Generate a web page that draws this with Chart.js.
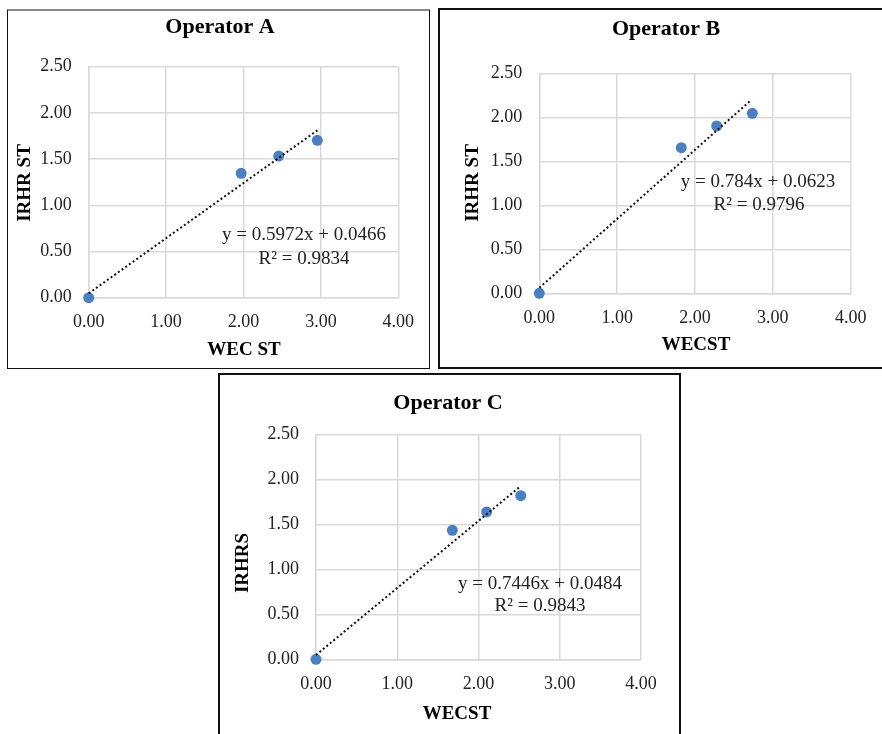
<!DOCTYPE html>
<html>
<head>
<meta charset="utf-8">
<script src="https://cdn.jsdelivr.net/npm/chart.js@4.4.0/dist/chart.umd.min.js"></script>
<style>
  html, body { margin: 0; padding: 0; background: #fff; }
  body { width: 882px; height: 734px; position: relative; overflow: hidden; }
  .box { position: absolute; background: #fff; box-sizing: content-box; }
  .box canvas { display: block; }
</style>
</head>
<body>
<div class="box" id="boxA" style="left:7px;top:9px;width:421px;height:357px;border-left:1px solid #111;border-right:1px solid #111;border-bottom:1px solid #111;border-top:2px solid #8a8a8a;"><canvas id="cA"></canvas></div>
<div class="box" id="boxB" style="left:438px;top:8px;width:444px;height:357px;border-left:2px solid #111;border-top:2px solid #111;border-bottom:2px solid #111;"><canvas id="cB"></canvas></div>
<div class="box" id="boxC" style="left:218px;top:373px;width:459px;height:361px;border-left:2px solid #111;border-top:2px solid #111;border-right:2px solid #111;"><canvas id="cC"></canvas></div>
<script>
// ---------- data ----------
const titles = ["Operator A", "Operator B", "Operator C"];
const xAxisTitles = ["WEC ST", "WECST", "WECST"];
const yAxisTitles = ["IRHR ST", "IRHR ST", "IRHRS"];
const xTickLabels = ["0.00", "1.00", "2.00", "3.00", "4.00"];
const yTickLabels = ["0.00", "0.50", "1.00", "1.50", "2.00", "2.50"];

const opA_x = [0.00, 1.97, 2.455, 2.954];
const opA_y = [0.00, 1.346, 1.533, 1.703];
const opB_x = [0.00, 1.824, 2.279, 2.736];
const opB_y = [0.00, 1.655, 1.901, 2.045];
const opC_x = [0.00, 1.678, 2.10, 2.52];
const opC_y = [0.00, 1.433, 1.637, 1.818];

// trendline end points (start / end)
const trendA_x = [0.00, 2.954];
const trendA_y = [0.047, 1.811];
const trendB_x = [0.00, 2.72];
const trendB_y = [0.062, 2.195];
const trendC_x = [0.00, 2.52];
const trendC_y = [0.048, 1.925];

const equations = ["y = 0.5972x + 0.0466", "y = 0.784x + 0.0623", "y = 0.7446x + 0.0484"];
const rSquared = ["R\u00B2 = 0.9834", "R\u00B2 = 0.9796", "R\u00B2 = 0.9843"];

// ---------- layout (canvas-relative pixels) ----------
const layouts = [
  { id: "cA", w: 421, h: 357, plot: { l: 80.7, r: 390.3, t: 55.7, b: 286.7 },
    title: [212, 16], xt: [236, 339], yt: [17, 172], eq: [296, 224], r2: [296, 248] },
  { id: "cB", w: 444, h: 357, plot: { l: 99.3, r: 410.7, t: 63.3, b: 283.3 },
    title: [226, 19], xt: [256, 335], yt: [33, 173], eq: [318, 172], r2: [319, 195] },
  { id: "cC", w: 459, h: 361, plot: { l: 96, r: 421, t: 59.3, b: 284.3 },
    title: [228, 28], xt: [237, 339], yt: [23, 188], eq: [320, 209], r2: [320, 231] }
];

const serif = "'Liberation Serif', 'Times New Roman', serif";
const pointColor = "#4a7fc1";
const gridColor = "#d9d9d9";

function pairs(xs, ys) { return xs.map((x, i) => ({ x: x, y: ys[i] })); }

const sets = [
  { pts: pairs(opA_x, opA_y), tr: pairs(trendA_x, trendA_y) },
  { pts: pairs(opB_x, opB_y), tr: pairs(trendB_x, trendB_y) },
  { pts: pairs(opC_x, opC_y), tr: pairs(trendC_x, trendC_y) }
];

const textPlugin = {
  id: "textPlugin",
  afterDraw(chart, args, opts) {
    const ctx = chart.ctx;
    const L = opts.L, i = opts.i;
    ctx.save();
    ctx.fillStyle = "#000";
    ctx.textAlign = "center";
    ctx.textBaseline = "middle";
    ctx.font = "bold 22px " + serif;
    ctx.fillText(titles[i], L.title[0], L.title[1]);
    ctx.font = "bold 19px " + serif;
    ctx.fillText(xAxisTitles[i], L.xt[0], L.xt[1]);
    ctx.save();
    ctx.translate(L.yt[0], L.yt[1]);
    ctx.rotate(-Math.PI / 2);
    ctx.fillText(yAxisTitles[i], 0, 0);
    ctx.restore();
    ctx.fillStyle = "#222";
    ctx.font = "19px " + serif;
    ctx.fillText(equations[i], L.eq[0], L.eq[1]);
    ctx.fillText(rSquared[i], L.r2[0], L.r2[1]);
    ctx.restore();
  }
};

layouts.forEach((L, i) => {
  const cv = document.getElementById(L.id);
  cv.width = L.w; cv.height = L.h;
  cv.style.width = L.w + "px"; cv.style.height = L.h + "px";
  new Chart(cv, {
    type: "scatter",
    data: {
      datasets: [
        { label: "trend", type: "line", data: sets[i].tr, order: 0, clip: false,
          borderColor: "#111", borderWidth: 2, borderDash: [2, 2.5],
          pointRadius: 0, fill: false, tension: 0 },
        { label: titles[i], data: sets[i].pts, order: 1, clip: false,
          backgroundColor: pointColor, borderColor: pointColor,
          pointRadius: 5.5, pointHoverRadius: 5.5, borderWidth: 0 }
      ]
    },
    options: {
      responsive: false,
      animation: false,
      devicePixelRatio: 1,
      layout: { padding: { top: L.plot.t, right: L.w - L.plot.r, left: 0, bottom: 0 } },
      plugins: {
        legend: { display: false },
        tooltip: { enabled: false },
        title: { display: false },
        textPlugin: { L: L, i: i }
      },
      scales: {
        x: {
          type: "linear", min: 0, max: 4,
          afterFit(s) { s.height = L.h - L.plot.b; },
          afterBuildTicks(s) { s.ticks = xTickLabels.map(v => ({ value: parseFloat(v) })); },
          grid: { color: gridColor, lineWidth: 1.5, drawTicks: false },
          border: { color: gridColor, width: 1.5 },
          ticks: { padding: 14, color: "#222", font: { family: serif, size: 18 },
                   callback: (v) => xTickLabels.find(t => parseFloat(t) === v) }
        },
        y: {
          type: "linear", min: 0, max: 2.5,
          afterFit(s) { s.width = L.plot.l; },
          afterBuildTicks(s) { s.ticks = yTickLabels.map(v => ({ value: parseFloat(v) })); },
          grid: { color: gridColor, lineWidth: 1.5, drawTicks: false },
          border: { color: gridColor, width: 1.5 },
          ticks: { padding: 17, color: "#222", font: { family: serif, size: 18 },
                   callback: (v) => yTickLabels.find(t => parseFloat(t) === v) }
        }
      }
    },
    plugins: [textPlugin]
  });
});
</script>
</body>
</html>
